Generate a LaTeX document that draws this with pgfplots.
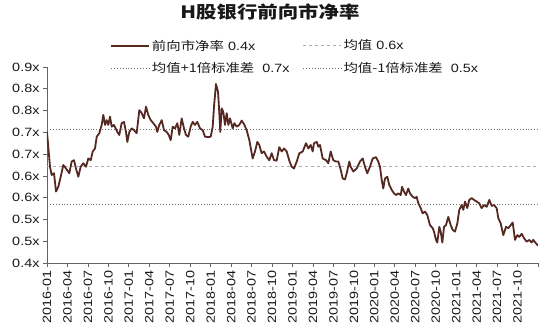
\documentclass[border=0pt]{standalone}
\usepackage{pgfplots}
\pgfplotsset{compat=1.18}
\usepackage{fontspec}
\setmainfont{Liberation Sans}[FakeStretch=1.2]
\newfontfamily\cjk{Noto Sans CJK SC}[FakeStretch=1.2]
\definecolor{mainline}{RGB}{85,40,34}
\definecolor{meanc}{RGB}{175,175,175}
\definecolor{sdc}{RGB}{110,110,110}
\definecolor{axc}{RGB}{100,100,100}
\definecolor{txtc}{RGB}{25,25,25}
\begin{document}
\begin{tikzpicture}
\useasboundingbox (-47pt,-73pt) rectangle (501pt,263pt);
\begin{axis}[
 at={(0pt,0pt)}, anchor=south west,
 scale only axis, width=491pt, height=196pt,
 xmin=0, xmax=72, ymin=0.40, ymax=0.85,
 axis x line*=bottom, axis y line*=left,
 axis line style={-, color=axc, line width=0.7pt},
 xtick={0,3,...,72},
 xticklabels={2016-01,2016-04,2016-07,2016-10,2017-01,2017-04,2017-07,2017-10,2018-01,2018-04,2018-07,2018-10,2019-01,2019-04,2019-07,2019-10,2020-01,2020-04,2020-07,2020-10,2021-01,2021-04,2021-07,2021-10,{}},
 x tick label style={rotate=90, anchor=east, font=\fontsize{12}{12}\selectfont, text=txtc},
 ytick={0.40,0.45,0.50,0.55,0.60,0.65,0.70,0.75,0.80,0.85},
 yticklabels={0.4x,0.5x,0.5x,0.6x,0.6x,0.7x,0.7x,0.8x,0.8x,0.9x},
 y tick label style={font=\fontsize{12}{12}\selectfont, text=txtc},
 tick align=outside, major tick length=4pt,
 tick style={color=axc, line width=0.7pt},
 title={\cjk\bfseries H股银行前向市净率},
 title style={at={(0.454,1.25)}, anchor=center, font=\fontsize{17}{17}\selectfont, text=txtc},
 legend columns=2,
 legend cell align=left,
 legend image code/.code={\draw[#1] (0pt,0pt) -- (38pt,0pt);},
 legend style={at={(0.122,1.16)}, anchor=north west, draw=none, fill=none,
   font=\fontsize{12}{12}\selectfont, text=txtc, row sep=7pt,
   /tikz/every even column/.append style={column sep=11pt}},
]
\addlegendimage{mainline, line width=1.9pt}
\addlegendentry{{\cjk 前向市净率} 0.4x}
\addlegendimage{meanc, dashed, line width=0.8pt}
\addlegendentry{{\cjk 均值} 0.6x}
\addlegendimage{sdc, dotted, line width=0.9pt}
\addlegendentry{{\cjk 均值+1倍标准差}\ \ 0.7x}
\addlegendimage{sdc, dotted, line width=0.9pt}
\addlegendentry{{\cjk 均值-1倍标准差}\ \ 0.5x}
\addplot[meanc, dashed, line width=0.8pt, forget plot] coordinates {(0,0.621) (72,0.621)};
\addplot[sdc, dotted, line width=0.9pt, forget plot] coordinates {(0,0.707) (72,0.707)};
\addplot[sdc, dotted, line width=0.9pt, forget plot] coordinates {(0,0.534) (72,0.534)};
\addplot[mainline, line width=1.8pt, line join=round, forget plot] coordinates {
(0,0.701)(0.44,0.621)(0.69,0.602)(1.03,0.606)(1.32,0.564)(1.66,0.575)(2.01,0.598)(2.39,0.625)(2.79,0.617)(3.27,0.606)(3.62,0.633)(3.96,0.636)(4.25,0.617)(4.59,0.598)(4.94,0.621)(5.32,0.629)(5.72,0.621)(6.06,0.640)(6.41,0.636)(6.70,0.656)(7.04,0.663)(7.29,0.690)(7.67,0.698)(8.02,0.717)(8.26,0.740)(8.51,0.717)(8.75,0.728)(8.99,0.717)(9.24,0.736)(9.49,0.713)(9.82,0.717)(10.31,0.701)(10.60,0.694)(10.95,0.721)(11.29,0.724)(11.58,0.701)(11.78,0.678)(12.07,0.701)(12.42,0.709)(12.76,0.705)(13.15,0.698)(13.54,0.751)(13.89,0.744)(14.22,0.732)(14.52,0.759)(14.85,0.740)(15.21,0.728)(15.59,0.721)(15.98,0.713)(16.17,0.701)(16.47,0.717)(16.82,0.728)(17.16,0.705)(17.55,0.701)(17.85,0.694)(18.14,0.682)(18.43,0.713)(18.77,0.709)(19.11,0.721)(19.40,0.694)(19.75,0.732)(20.09,0.709)(20.38,0.694)(20.72,0.690)(21.07,0.713)(21.37,0.724)(21.70,0.717)(22.04,0.724)(22.44,0.709)(22.83,0.705)(23.17,0.690)(23.65,0.689)(24.01,0.690)(24.30,0.713)(24.49,0.759)(24.78,0.811)(25.08,0.793)(25.27,0.744)(25.41,0.701)(25.62,0.755)(25.85,0.747)(26.10,0.717)(26.35,0.744)(26.59,0.717)(26.84,0.732)(27.23,0.709)(27.47,0.721)(27.82,0.713)(28.20,0.717)(28.55,0.727)(28.89,0.719)(29.28,0.705)(29.67,0.682)(30.16,0.640)(30.50,0.656)(30.84,0.678)(31.13,0.671)(31.48,0.652)(31.82,0.656)(32.22,0.644)(32.60,0.636)(32.95,0.652)(33.29,0.636)(33.68,0.635)(34.06,0.666)(34.42,0.656)(34.75,0.663)(35.15,0.656)(35.53,0.635)(35.88,0.621)(36.22,0.617)(36.62,0.633)(37.00,0.652)(37.50,0.656)(37.98,0.675)(38.32,0.663)(38.67,0.671)(38.96,0.656)(39.15,0.675)(39.55,0.678)(39.78,0.667)(40.03,0.671)(40.43,0.640)(40.91,0.636)(41.25,0.629)(41.60,0.656)(41.98,0.636)(42.38,0.633)(42.72,0.633)(43.07,0.614)(43.36,0.594)(43.70,0.592)(43.95,0.606)(44.33,0.633)(44.53,0.621)(44.92,0.610)(45.41,0.617)(45.90,0.633)(46.29,0.640)(46.63,0.621)(46.97,0.606)(47.36,0.621)(47.76,0.640)(48.24,0.643)(48.58,0.633)(48.83,0.621)(49.08,0.591)(49.31,0.571)(49.56,0.594)(49.90,0.598)(50.19,0.579)(50.55,0.568)(50.88,0.560)(51.18,0.556)(51.51,0.560)(51.87,0.556)(52.06,0.575)(52.35,0.564)(52.64,0.556)(52.98,0.571)(53.23,0.560)(53.63,0.552)(53.96,0.549)(54.21,0.552)(54.45,0.537)(54.80,0.526)(55.09,0.514)(55.43,0.518)(55.77,0.510)(56.16,0.487)(56.56,0.480)(56.75,0.472)(57.04,0.453)(57.23,0.447)(57.53,0.483)(57.73,0.472)(57.97,0.447)(58.22,0.483)(58.51,0.487)(58.85,0.506)(59.20,0.487)(59.49,0.476)(59.83,0.472)(60.17,0.491)(60.46,0.522)(60.81,0.533)(61.05,0.522)(61.30,0.541)(61.63,0.526)(61.93,0.545)(62.28,0.549)(62.61,0.545)(63.01,0.541)(63.39,0.537)(63.74,0.526)(64.08,0.533)(64.48,0.529)(64.86,0.545)(65.21,0.531)(65.55,0.533)(65.94,0.526)(66.18,0.503)(66.53,0.491)(66.91,0.464)(67.31,0.483)(67.65,0.480)(68.00,0.487)(68.29,0.493)(68.63,0.453)(68.97,0.464)(69.26,0.460)(69.61,0.467)(69.95,0.457)(70.34,0.449)(70.72,0.453)(71.07,0.447)(71.31,0.453)(71.71,0.445)(72.0,0.440)
};
\end{axis}
\end{tikzpicture}
\end{document}
